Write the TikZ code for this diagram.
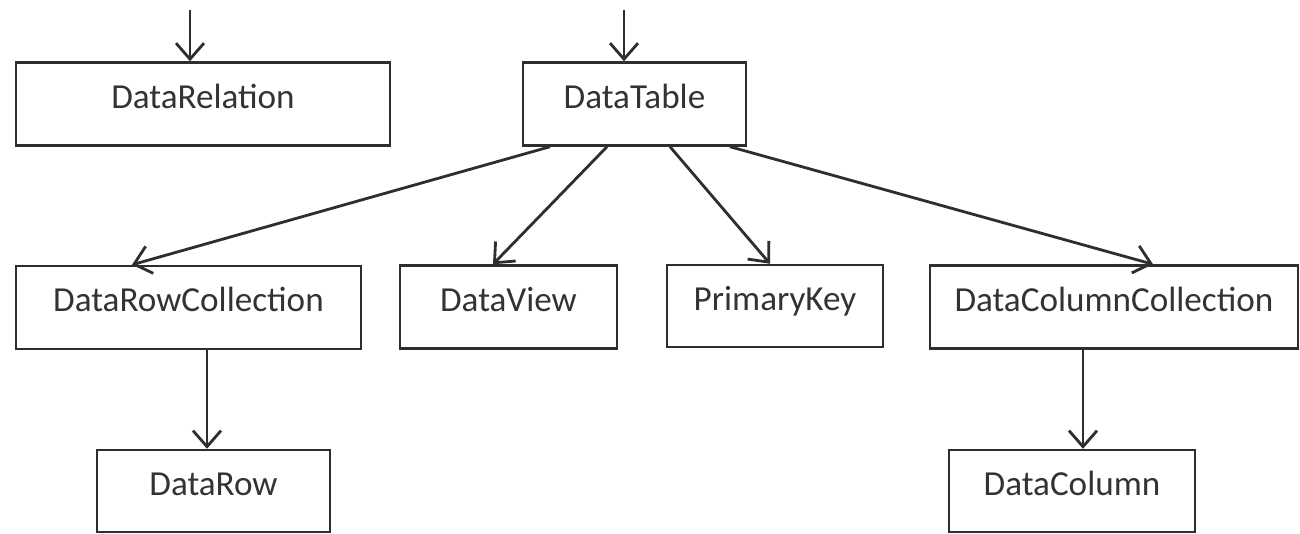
\documentclass[tikz,border=0pt]{standalone}
\usepackage{fontspec}
\setmainfont{Carlito}
\usetikzlibrary{arrows.meta}
\definecolor{lineGray}{HTML}{2E2E2E}
\definecolor{textGray}{HTML}{333333}
\begin{document}
\begin{tikzpicture}[boxStyle/.style={rectangle, draw=lineGray, line width=1.4pt, minimum height=1.66cm, font=\fontsize{20}{22}\selectfont, text=textGray, text height=13pt, text depth=8.2pt, inner sep=0pt}, linkStyle/.style={draw=lineGray, line width=1.6pt}, >={Straight Barb[length=0.32cm, width=0.56cm]}]
                    \useasboundingbox (0,0) rectangle (26,-10.68);

                    \node[boxStyle, minimum width=7.48cm](top_rel)   at ( 4.06, -2.08) {DataRelation};
                    \node[boxStyle, minimum width=4.46cm](top_table) at (12.69, -2.08) {DataTable};

                    \node[boxStyle, minimum width=6.90cm](mid_rows) at ( 3.77, -6.15) {DataRowCollection};
                    \node[boxStyle, minimum width=4.34cm](mid_view) at (10.17, -6.14) {DataView};
                    \node[boxStyle, minimum width=4.32cm, minimum height=1.64cm](mid_key)  at (15.50, -6.12) {PrimaryKey};
                    \node[boxStyle, minimum width=7.36cm](mid_cols) at (22.28, -6.14) {DataColumnCollection};

                    \node[boxStyle, minimum width=4.66cm, minimum height=1.64cm](low_row) at ( 4.27, -9.82) {DataRow};
                    \node[boxStyle, minimum width=4.92cm, minimum height=1.64cm](low_col) at (21.44, -9.82) {DataColumn};

                    \coordinate (in_rel)   at (3.80, -0.2);
                    \coordinate (in_table) at (12.48, -0.2);

                    \draw[linkStyle, ->] (in_rel) -- (in_rel |- top_rel.north);
                    \draw[linkStyle, ->] (in_table) -- (in_table |- top_table.north);

                    \draw[linkStyle, ->] ([xshift=-1.69cm]top_table.south) -- ([xshift=-1.13cm]mid_rows.north);
                    \draw[linkStyle, ->] ([xshift=-0.55cm]top_table.south) -- ([xshift=-0.31cm]mid_view.north);
                    \draw[linkStyle, ->] ([xshift= 0.71cm]top_table.south) -- ([xshift=-0.10cm]mid_key.north);
                    \draw[linkStyle, ->] ([xshift= 1.91cm]top_table.south) -- ([xshift= 0.78cm]mid_cols.north);

                    \draw[linkStyle, ->] ([xshift=0.37cm]mid_rows.south) -- ([xshift=0.37cm]mid_rows.south |- low_row.north);
                    \draw[linkStyle, ->] ([xshift=-0.62cm]mid_cols.south) -- ([xshift=-0.62cm]mid_cols.south |- low_col.north);
                \end{tikzpicture}
\end{document}
